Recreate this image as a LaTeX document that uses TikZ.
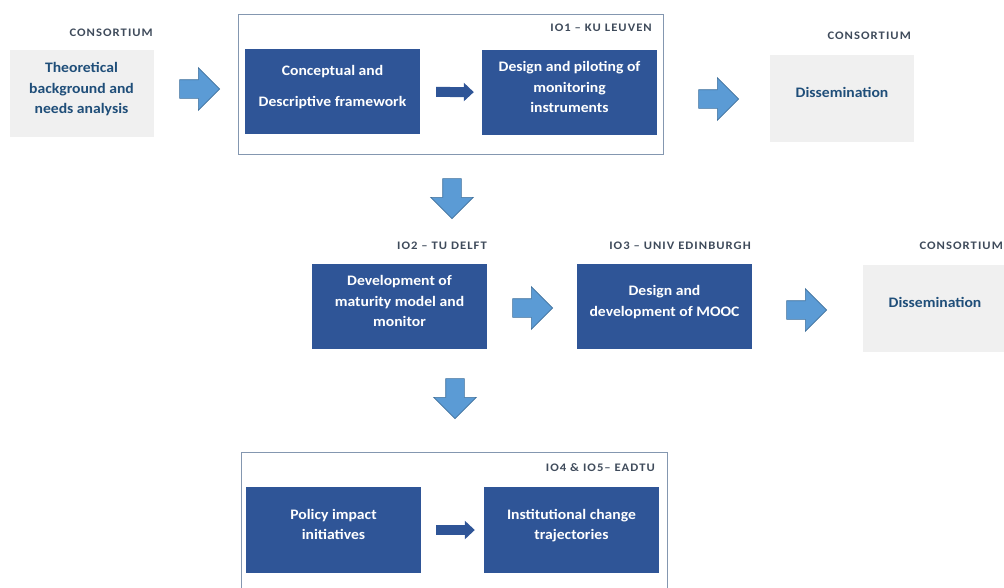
\documentclass[tikz,border=0pt]{standalone}
\usepackage{fontspec}
\setmainfont{Carlito}[FakeStretch=1.08]
\newfontfamily\tagfont{Carlito}[FakeStretch=1.1, LetterSpace=9]
\usetikzlibrary{shapes.arrows,arrows.meta}
\definecolor{ioblue}{HTML}{2F5597}
\definecolor{consfill}{HTML}{F0F0F0}
\definecolor{constext}{HTML}{1F4E79}
\definecolor{taggrey}{HTML}{3F4B5B}
\definecolor{framegrey}{HTML}{8497B0}
\definecolor{arrowfill}{HTML}{5B9BD5}
\definecolor{arrowedge}{HTML}{41719C}
\tikzset{
  ioblock/.style={fill=ioblue, text=white, minimum width=175pt, minimum height=85pt, inner sep=0pt, align=center, text depth=11pt, font=\bfseries\fontsize{14.5}{20.5}\selectfont},
  consblock/.style={ioblock, fill=consfill, text=constext, minimum width=144pt, minimum height=87pt},
  frame/.style={draw=framegrey, line width=1pt, inner sep=0pt},
  tag/.style={anchor=east, text=taggrey, inner sep=0pt, font=\tagfont\bfseries\fontsize{11.5}{13}\selectfont},
  fatarrow/.style={single arrow, fill=arrowfill, draw=arrowedge, line width=0.6pt, inner xsep=0pt, inner ysep=9pt, minimum width=42pt, minimum height=40pt, single arrow head extend=12pt},
  downarrow/.style={fatarrow, shape border rotate=270, inner xsep=9pt, inner ysep=0pt},
  thinarrow/.style={draw=ioblue, line width=10pt, -{Triangle[width=18pt,length=10pt]}}
}
\begin{document}
\begin{tikzpicture}[x=1pt,y=-1pt]
\clip (0,0) rectangle (1004,587);
\node[frame, minimum width=425pt, minimum height=140pt] (leuven) at (450.5,84) {};
\node[frame, minimum width=426pt, minimum height=170pt] (eadtu) at (454,537) {};
\node[consblock] (theory) at (81.5,93.5) {Theoretical\\background and\\needs analysis};
\node[ioblock] (concept) at (332.5,91.5) {Conceptual and\\[10.5pt]Descriptive framework};
\node[ioblock] (design) at (569.5,92.5) {Design and piloting of\\monitoring\\instruments};
\node[consblock] (dissem) at (842,98) {Dissemination};
\node[ioblock] (maturity) at (399.5,306.5) {Development of\\maturity model and\\monitor};
\node[ioblock] (mooc) at (664.5,306.5) {Design and\\development of MOOC};
\node[consblock] (spread) at (935,308) {Dissemination};
\node[ioblock, minimum height=86pt] (policy) at (333.5,530) {Policy impact\\initiatives};
\node[ioblock, minimum height=86pt] (change) at (571.5,530) {Institutional change\\trajectories};
\node[tag] (tcons1) at (153,33) {CONSORTIUM};
\node[tag] (tleuven) at (652,28) {IO1 – KU LEUVEN};
\node[tag] (tcons2) at (911,36) {CONSORTIUM};
\node[tag] (tdelft) at (487,246) {IO2 – TU DELFT};
\node[tag] (tedinburgh) at (751,246) {IO3 – UNIV EDINBURGH};
\node[tag] (tcons3) at (1003,246) {CONSORTIUM};
\node[tag] (teadtu) at (655,468) {IO4 \& IO5– EADTU};
\foreach \name/\x/\y in {go1/195/89, go2/714/99, go3/528/308, go4/802/310}
  \node[fatarrow] (\name) at (\x,\y) {};
\foreach \name/\x/\y in {down1/452/194, down2/455/394}
  \node[downarrow] (\name) at (\x,\y) {};
\draw[thinarrow, shorten <=16pt, shorten >=8pt] (concept) -- (design);
\draw[thinarrow, shorten <=15pt, shorten >=9pt] (policy) -- (change);
\end{tikzpicture}
\end{document}
